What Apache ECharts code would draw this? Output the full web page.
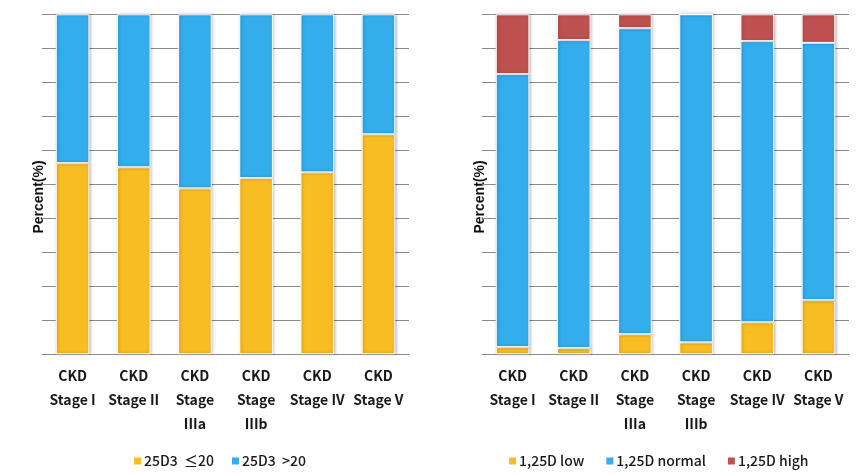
<!DOCTYPE html>
<html>
<head>
<meta charset="utf-8">
<script src="https://cdn.jsdelivr.net/npm/echarts@6/dist/echarts.min.js"></script>
<style>html,body{margin:0;padding:0;background:#fff;}#c{width:864px;height:475px;}</style>
</head>
<body>
<div id="c"></div>
<script>
var categories = ['CKD\nStage I', 'CKD\nStage II', 'CKD\nStage\nIIIa', 'CKD\nStage\nIIIb', 'CKD\nStage IV', 'CKD\nStage V'];
// Left chart: 25D3
var d25Low = [56.2, 55.0, 48.8, 51.8, 53.5, 64.7];
var d25High = [43.8, 45.0, 51.2, 48.2, 46.5, 35.3];
// Right chart: 1,25D
var d125Low = [2.1, 1.8, 5.9, 3.5, 9.4, 15.9];
var d125Normal = [80.3, 90.6, 90.0, 96.5, 82.7, 75.7];
var d125High = [17.6, 7.6, 4.1, 0, 7.9, 8.4];
var yTicks = [0, 10, 20, 30, 40, 50, 60, 70, 80, 90, 100];
var leftNames = ['25D3  \u226420', '25D3  >20'];
var rightNames = ['1,25D low', '1,25D normal', '1,25D high'];
var yName = 'Percent(%)';

var YELLOW = '#F8BD22', BLUE = '#33ADEC', RED = '#BE5150';
var chart = echarts.init(document.getElementById('c'));
var itemStyle = function (c) {
  return { color: c, borderColor: '#ffffff', borderWidth: 1,
           shadowColor: 'rgba(0,0,0,0.28)', shadowBlur: 3, shadowOffsetX: 1, shadowOffsetY: 0 };
};
var labelFont = { fontFamily: 'Noto Sans CJK KR', fontSize: 14, fontWeight: 'bold', color: '#1a1a1a', lineHeight: 24 };
function xAx(i) {
  return { type: 'category', gridIndex: i, data: categories,
    axisLine: { show: true, lineStyle: { color: '#8a8a8a', width: 1 } },
    axisTick: { show: false },
    axisLabel: Object.assign({ margin: 9, interval: 0 }, labelFont) };
}
function yAx(i) {
  return { type: 'value', gridIndex: i, min: yTicks[0], max: yTicks[yTicks.length - 1],
    interval: yTicks[1] - yTicks[0],
    axisLine: { show: false }, axisTick: { show: false }, axisLabel: { show: false },
    splitLine: { show: true, lineStyle: { color: '#8a8a8a', width: 1 } } };
}
var legendText = { fontFamily: 'Noto Sans CJK KR', fontSize: 14, fontWeight: 500, color: '#1a1a1a', padding: [0, 0, 0, -3] };
var option = {
  animation: false,
  backgroundColor: '#ffffff',
  grid: [
    { left: 42, top: 14.3, width: 367, height: 340 },
    { left: 482, top: 14.3, width: 367, height: 340 }
  ],
  xAxis: [xAx(0), xAx(1)],
  yAxis: [yAx(0), yAx(1)],
  legend: [
    { left: 127, top: 449, itemWidth: 9, itemHeight: 9, itemGap: 16, icon: 'rect',
      textStyle: legendText, data: leftNames },
    { left: 502, top: 449, itemWidth: 9, itemHeight: 9, itemGap: 20, icon: 'rect',
      textStyle: legendText, data: rightNames }
  ],
  graphic: [
    { type: 'text', x: 39, y: 197, rotation: Math.PI / 2,
      style: { text: yName, font: 'bold 14px "Liberation Sans", Arial', fill: '#111', align: 'center', verticalAlign: 'middle' } },
    { type: 'text', x: 480, y: 197, rotation: Math.PI / 2,
      style: { text: yName, font: 'bold 14px "Liberation Sans", Arial', fill: '#111', align: 'center', verticalAlign: 'middle' } }
  ],
  series: [
    { name: leftNames[0], type: 'bar', stack: 'a', xAxisIndex: 0, yAxisIndex: 0, barWidth: '55%', data: d25Low, itemStyle: itemStyle(YELLOW) },
    { name: leftNames[1], type: 'bar', stack: 'a', xAxisIndex: 0, yAxisIndex: 0, barWidth: '55%', data: d25High, itemStyle: itemStyle(BLUE) },
    { name: rightNames[0], type: 'bar', stack: 'b', xAxisIndex: 1, yAxisIndex: 1, barWidth: '55%', data: d125Low, itemStyle: itemStyle(YELLOW) },
    { name: rightNames[1], type: 'bar', stack: 'b', xAxisIndex: 1, yAxisIndex: 1, barWidth: '55%', data: d125Normal, itemStyle: itemStyle(BLUE) },
    { name: rightNames[2], type: 'bar', stack: 'b', xAxisIndex: 1, yAxisIndex: 1, barWidth: '55%', data: d125High, itemStyle: itemStyle(RED) }
  ]
};
chart.setOption(option);
</script>
</body>
</html>
